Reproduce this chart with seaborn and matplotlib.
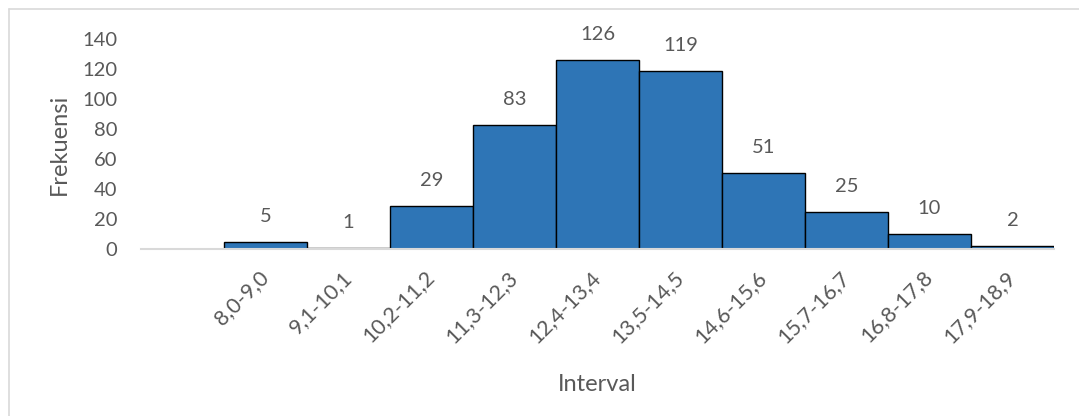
import matplotlib
matplotlib.use("Agg")
import matplotlib.pyplot as plt
import seaborn as sns
import pandas as pd
from matplotlib.lines import Line2D

intervals = ["8,0-9,0", "9,1-10,1", "10,2-11,2", "11,3-12,3", "12,4-13,4",
             "13,5-14,5", "14,6-15,6", "15,7-16,7", "16,8-17,8", "17,9-18,9"]
frekuensi = [5, 1, 29, 83, 126, 119, 51, 25, 10, 2]
y_ticks = [0, 20, 40, 60, 80, 100, 120, 140]

sns.set_theme(style="white")
plt.rcParams["font.family"] = ["Lato", "DejaVu Sans"]

text_color = "#595959"
bar_color = "#2E75B6"

df = pd.DataFrame({"Interval": intervals, "Frekuensi": frekuensi})

fig = plt.figure(figsize=(10.79, 4.16), dpi=100)
ax = fig.add_axes([141 / 1079, 1 - 249 / 416, (1054 - 141) / 1079, (249 - 39) / 416])

sns.barplot(data=df, x="Interval", y="Frekuensi", color=bar_color,
            width=1.0, edgecolor="black", linewidth=1.0, saturation=1, ax=ax)

ax.set_xlim(-1.5, len(intervals) - 0.5)
ax.set_ylim(0, 140)
ax.set_yticks(y_ticks)
ax.set_yticklabels([str(v) for v in y_ticks])

for spine in ["top", "right", "left"]:
    ax.spines[spine].set_visible(False)
ax.spines["bottom"].set_color("#D9D9D9")
ax.spines["bottom"].set_linewidth(1.5)

ax.tick_params(axis="both", length=0, colors=text_color)
ax.tick_params(axis="y", pad=17, labelsize=14.5)
ax.tick_params(axis="x", pad=18, labelsize=15.5)
plt.setp(ax.get_xticklabels(), rotation=45, ha="right", va="center",
         rotation_mode="anchor")

ax.set_xlabel("Interval", fontsize=17, color=text_color, labelpad=20)
ax.set_ylabel("Frekuensi", fontsize=17, color=text_color, labelpad=9)

for i, v in enumerate(frekuensi):
    ax.annotate(str(v), xy=(i, v), xytext=(0, 18), textcoords="offset points",
                ha="center", va="center", fontsize=14.5, color=text_color)

# light frame along the top and left edges of the figure
fig.add_artist(Line2D([8.5 / 1079, 1.0], [1 - 9 / 416, 1 - 9 / 416],
                      transform=fig.transFigure, color="#D9D9D9", linewidth=1.2))
fig.add_artist(Line2D([8.5 / 1079, 8.5 / 1079], [0.0, 1 - 9 / 416],
                      transform=fig.transFigure, color="#D9D9D9", linewidth=1.2))

fig.savefig("out.png", dpi=100)
